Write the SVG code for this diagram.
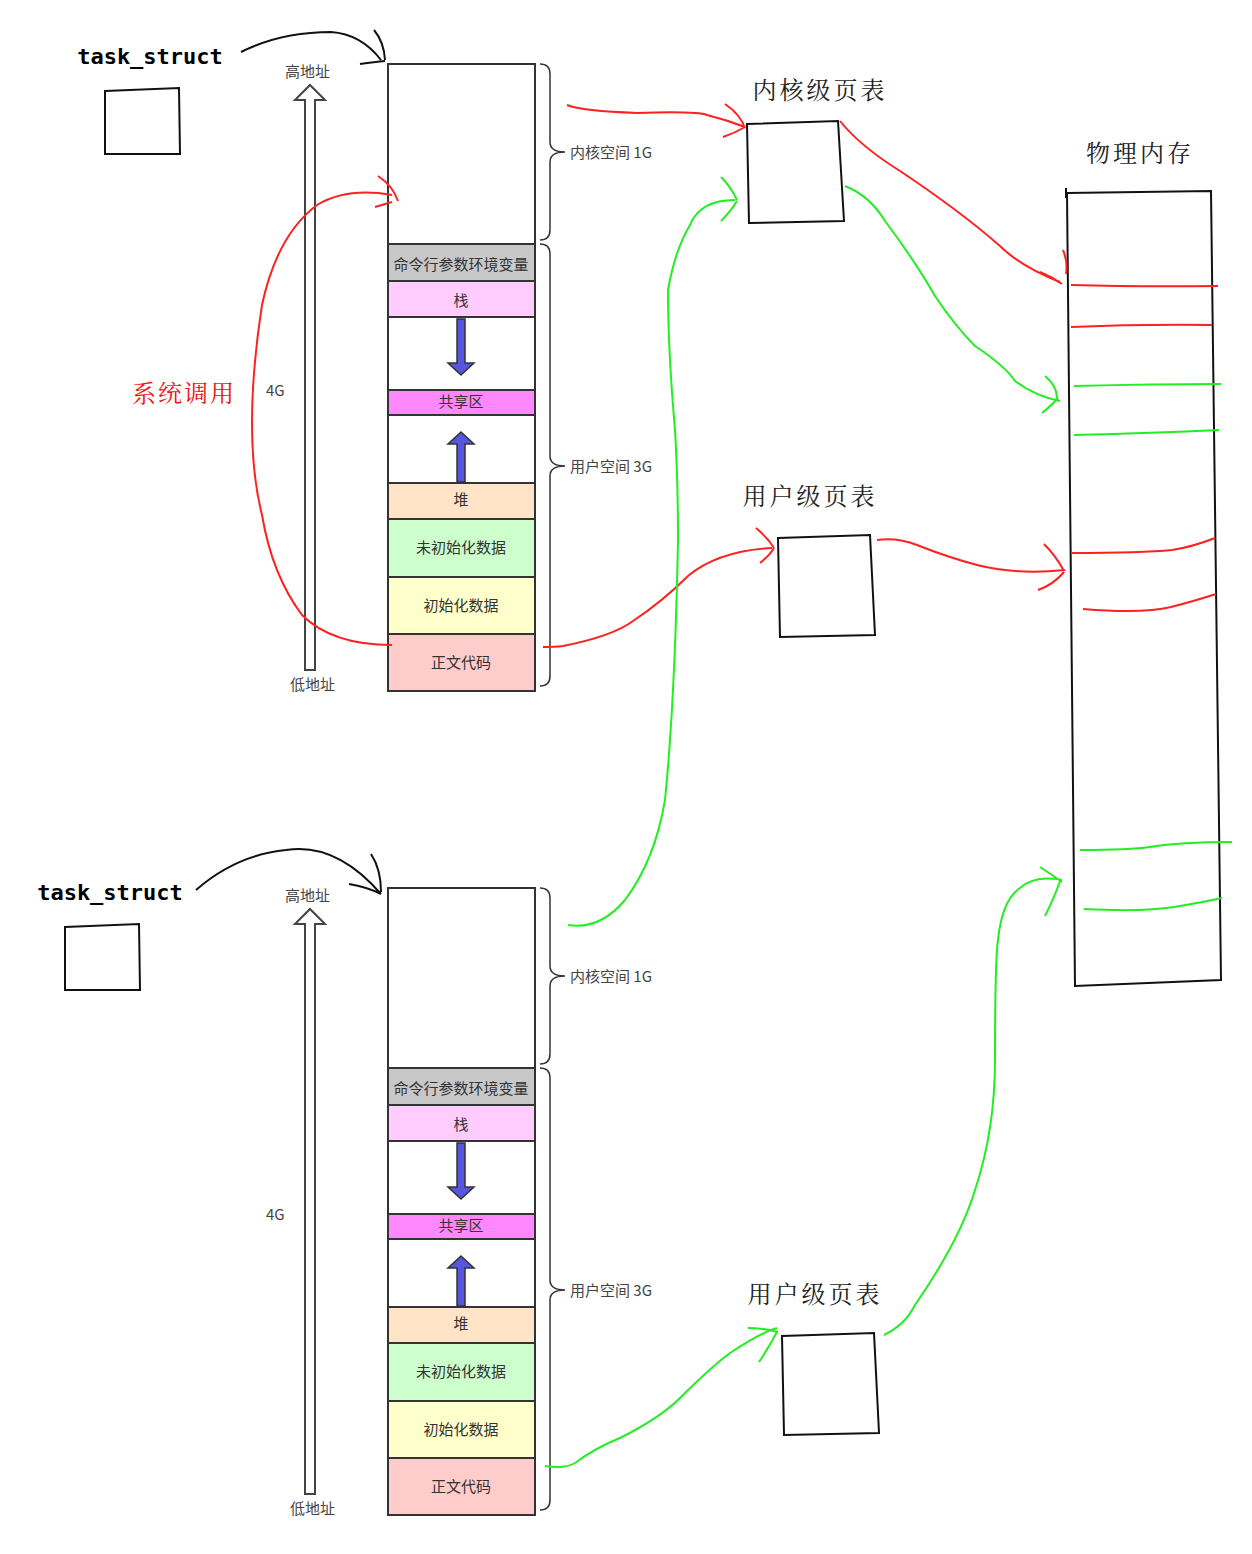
<svg xmlns="http://www.w3.org/2000/svg" width="1252" height="1554" viewBox="0 0 1252 1554">
<style>
.b{stroke:#333;stroke-width:2;}
.t{font-family:"Noto Sans CJK SC","Liberation Sans",sans-serif;font-size:15px;fill:#333;text-anchor:middle;}
.l{font-family:"Noto Sans CJK SC","Liberation Sans",sans-serif;font-size:15px;fill:#444;}
.h{font-family:"Noto Serif CJK SC","Noto Sans CJK SC",serif;font-size:24px;fill:#222;text-anchor:middle;letter-spacing:3px;}
.m{font-family:"DejaVu Sans Mono","Liberation Mono",monospace;font-size:22px;font-weight:bold;fill:#000;text-anchor:middle;}
.r{fill:none;stroke:#ff2020;stroke-width:2;}
.g{fill:none;stroke:#22ee22;stroke-width:2;}
.k{fill:none;stroke:#111;stroke-width:2;}
.ua{fill:#fff;stroke:#444;stroke-width:2;}
.ba{fill:#5555dd;stroke:#333;stroke-width:1.5;}
</style>
<defs>
<g id="mem">
<rect x="388" y="0" width="147" height="180" fill="#fff" class="b"/>
<rect x="388" y="180" width="147" height="37" fill="#c8c8c8" class="b"/>
<rect x="388" y="217" width="147" height="36" fill="#ffccff" class="b"/>
<rect x="388" y="253" width="147" height="73" fill="#fff" class="b"/>
<rect x="388" y="326" width="147" height="25" fill="#ff88ff" class="b"/>
<rect x="388" y="351" width="147" height="68" fill="#fff" class="b"/>
<rect x="388" y="419" width="147" height="36" fill="#ffe4c8" class="b"/>
<rect x="388" y="455" width="147" height="58" fill="#ccffcc" class="b"/>
<rect x="388" y="513" width="147" height="57" fill="#ffffcc" class="b"/>
<rect x="388" y="570" width="147" height="57" fill="#ffcccc" class="b"/>
<text class="t" x="461" y="206">命令行参数环境变量</text>
<text class="t" x="461" y="242">栈</text>
<text class="t" x="461" y="343">共享区</text>
<text class="t" x="461" y="441">堆</text>
<text class="t" x="461" y="489">未初始化数据</text>
<text class="t" x="461" y="547">初始化数据</text>
<text class="t" x="461" y="604">正文代码</text>
<path class="ba" d="M457,255 h8 v44 h9 l-13,12 l-13,-12 h9 z"/>
<path class="ba" d="M457,418 h8 v-38 h9 l-13,-12 l-13,12 h9 z"/>
<path class="ua" d="M305,606 v-570 h-10 l15,-15 l15,15 h-10 v570 z"/>
<text class="l" x="285" y="13">高地址</text>
<text class="l" x="290" y="626">低地址</text>
<text class="l" x="266" y="332">4G</text>
<path fill="none" stroke="#333" stroke-width="1.5" d="M540,0 q10,0 10,10 v68 q0,10 15,10 q-15,0 -15,10 v68 q0,10 -10,10"/>
<path fill="none" stroke="#333" stroke-width="1.5" d="M540,180 q10,0 10,10 v202 q0,10 15,10 q-15,0 -15,10 v200 q0,10 -10,10"/>
<text class="l" x="570" y="94">内核空间 1G</text>
<text class="l" x="570" y="408">用户空间 3G</text>
</g>
</defs>
<rect width="1252" height="1554" fill="#fff"/>
<g id="mem-top"><use href="#mem" y="64"/></g>
<g id="mem-bottom"><use href="#mem" y="888"/></g>
<g id="task1"><text class="m" x="150" y="64">task_struct</text><path class="k" d="M105,91 L179,88 L180,154 L105,154 Z"/></g>
<g id="task2"><text class="m" x="110" y="900">task_struct</text><path class="k" d="M65,927 L139,924 L140,990 L65,990 Z"/></g>
<g id="kpt"><text class="h" x="820" y="99">内核级页表</text><path class="k" d="M747,124 L838,121 L844,221 L749,223 Z"/></g>
<g id="upt1"><text class="h" x="810" y="505">用户级页表</text><path class="k" d="M778,538 L870,535 L875,635 L780,637 Z"/></g>
<g id="upt2"><text class="h" x="815" y="1303">用户级页表</text><path class="k" d="M782,1336 L874,1333 L879,1433 L784,1435 Z"/></g>
<g id="phys"><text class="h" x="1140" y="162">物理内存</text><path class="k" d="M1067,193 L1211,191 L1221,980 L1075,986 Z M1066,188 v10"/>
<path class="r" d="M1071,285 q70,2 147,1 M1071,327 q70,-3 141,-2 M1072,553 q70,0 100,-3 q20,-3 43,-12 M1083,609 q60,5 88,-2 q20,-5 45,-13"/>
<path class="g" d="M1074,386 q80,-2 147,-2 M1074,435 q80,-2 145,-5 M1080,850 q50,0 70,-3 q30,-5 82,-5 M1084,909 q60,3 90,-2 q30,-5 48,-9"/>
</g>
<g id="connectors">
<text x="184" y="402" font-family="Noto Serif CJK SC,serif" font-size="24" fill="#ee1111" text-anchor="middle" letter-spacing="2">系统调用</text>
<path class="k" d="M241,52 q40,-20 90,-20 q30,2 50,28 M374,30 q10,12 11,30 M360,64 q15,-2 25,-3"/>
<path class="k" d="M196,890 q40,-35 90,-40 q50,-8 95,44 M371,854 q10,15 10,38 M349,884 q18,3 32,10"/>
<path class="r" d="M392,645 q-60,0 -90,-30 q-30,-40 -40,-100 q-20,-80 0,-210 q15,-70 55,-100 q30,-18 75,-10 M378,176 q15,10 20,25 M375,207 q10,-3 17,-5"/>
<path class="r" d="M567,105 q15,6 70,8 q60,-2 70,2 q20,5 38,12 M725,104 q15,10 20,24 M723,137 q12,-4 22,-10"/>
<path class="r" d="M840,121 q20,25 60,50 q60,40 100,75 q20,20 60,36 M1040,272 q12,5 22,12 M1063,250 q5,12 3,24"/>
<path class="r" d="M543,647 q12,0 20,-1 q50,-10 70,-25 q30,-20 55,-45 q30,-25 84,-28 M756,528 q12,10 18,20 M760,563 q10,-8 14,-15"/>
<path class="r" d="M877,540 q20,-3 40,5 q30,12 60,20 q40,10 88,5 M1044,544 q12,12 20,27 M1038,590 q15,-5 26,-18"/>
<path class="g" d="M568,925 Q600,930 625,900 Q655,860 665,800 Q675,700 678,540 Q678,480 675,430 Q668,350 668,290 Q675,250 690,225 Q700,200 735,200 M721,177 q10,10 16,23 M721,221 q10,-10 16,-20"/>
<path class="g" d="M845,186 q25,10 40,35 q30,40 50,75 q20,30 40,50 q30,20 40,35 q20,15 45,20 M1045,376 q12,10 12,22 M1042,413 q10,-8 16,-15"/>
<path class="g" d="M545,1466 q20,3 30,-3 q20,-15 45,-25 q40,-20 60,-40 q30,-30 50,-45 q30,-20 47,-25 M748,1328 q15,0 30,4 M759,1362 q10,-15 18,-30"/>
<path class="g" d="M884,1335 Q905,1325 915,1305 Q960,1240 975,1190 Q995,1130 995,1060 Q995,960 998,940 Q1002,900 1020,888 Q1035,875 1062,880 M1040,867 q15,10 22,15 M1045,916 q10,-20 15,-35"/>
</g>
</svg>
